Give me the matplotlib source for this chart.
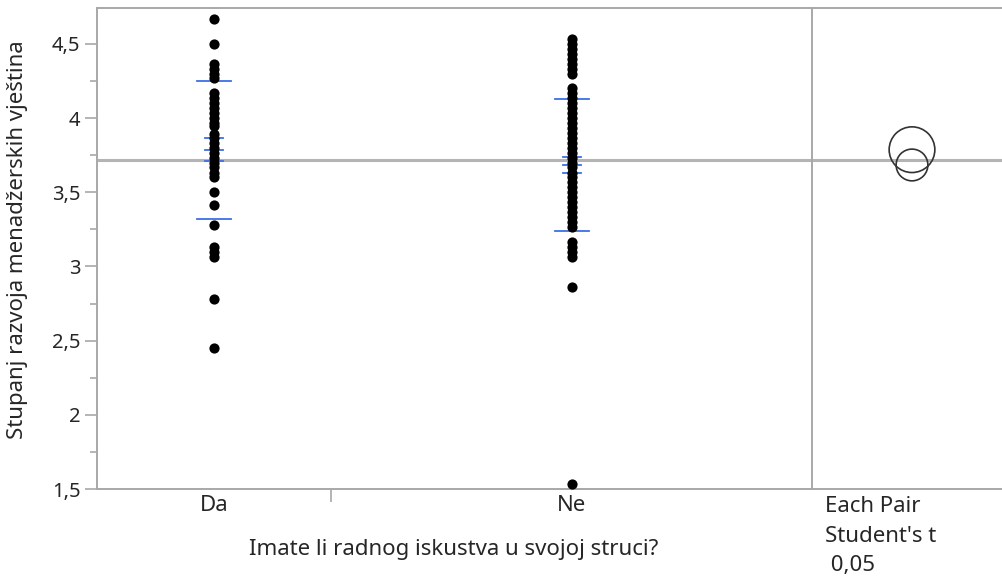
import matplotlib
matplotlib.use("Agg")
import matplotlib.pyplot as plt
from matplotlib.patches import Circle
from matplotlib.ticker import FuncFormatter, MultipleLocator

# Groups and their sizes (sizes set the width each group gets on the x axis)
groups = ["Da", "Ne"]
group_n = [58, 119]

# Distinct observed scores in each group
scores_da = [4.667, 4.5, 4.367, 4.333, 4.3, 4.267, 4.167, 4.133, 4.1, 4.067,
             4.033, 4.0, 3.967, 3.95, 3.89, 3.867, 3.833, 3.8, 3.767, 3.733,
             3.7, 3.667, 3.633, 3.6, 3.5, 3.417, 3.28, 3.133, 3.1, 3.067,
             2.783, 2.45]
scores_ne = [4.533, 4.5, 4.467, 4.433, 4.4, 4.367, 4.333, 4.3, 4.2, 4.167,
             4.133, 4.1, 4.067, 4.033, 4.0, 3.967, 3.933, 3.9, 3.867, 3.833,
             3.8, 3.767, 3.733, 3.7, 3.667, 3.633, 3.6, 3.567, 3.533, 3.5,
             3.467, 3.433, 3.4, 3.367, 3.333, 3.3, 3.267, 3.167, 3.133, 3.1,
             3.067, 2.86, 1.533]

# Group summaries
group_mean = [3.787, 3.684]
group_sd = [0.466, 0.446]
mean_ci_half = [0.078, 0.054]
circle_radius = [0.154, 0.107]

y_label = "Stupanj razvoja menadžerskih vještina"
x_label = "Imate li radnog iskustva u svojoj struci?"
compare_text = ["Each Pair", "Student's t", " 0,05"]

FONT = ["Noto Sans", "DejaVu Sans"]
plt.rcParams["font.family"] = FONT
W, H = 1003, 577
fig = plt.figure(figsize=(W / 100, H / 100), dpi=100)

def px_box(x0, y0, x1, y1):
    return [x0 / W, 1 - y1 / H, (x1 - x0) / W, (y1 - y0) / H]

def fig_text(x, y, s, **kw):
    fig.text(x / W, 1 - y / H, s, **kw)

YMIN, YMAX = 1.5, 4.742
spine_col = "#a8a8a8"
blue = "#3d6fe6"
text_col = "#262626"
LABEL_FS = 16
TICK_FS = 14.5

ax = fig.add_axes(px_box(97, 8, 812, 489))
ax.set_ylim(YMIN, YMAX)
total_n = sum(group_n)
ax.set_xlim(0, total_n)

grand_mean = sum(m * n for m, n in zip(group_mean, group_n)) / total_n

bounds = [0]
for n in group_n:
    bounds.append(bounds[-1] + n)
centers = [(bounds[i] + bounds[i + 1]) / 2 for i in range(len(group_n))]
x_per_px = total_n / (812 - 97)

ax.axhline(grand_mean, color="#b4b4b4", lw=2.2, zorder=1)

for i, (sc, c) in enumerate(zip([scores_da, scores_ne], centers)):
    m, sd, ci = group_mean[i], group_sd[i], mean_ci_half[i]
    wide = 17 * x_per_px
    narrow = 9 * x_per_px
    for yv in (m + sd, m - sd):
        ax.plot([c - wide, c + wide], [yv, yv], color=blue, lw=1.3, zorder=2)
    for yv in (m - ci, m, m + ci):
        ax.plot([c - narrow, c + narrow], [yv, yv], color=blue, lw=1.3, zorder=2)
    ax.scatter([c] * len(sc), sc, s=54, color="black", linewidths=0, zorder=3)

for side in ("left", "top", "bottom"):
    ax.spines[side].set_color(spine_col)
    ax.spines[side].set_linewidth(1.4)
ax.spines["right"].set_visible(False)

ax.yaxis.set_major_locator(MultipleLocator(0.5))
ax.yaxis.set_minor_locator(MultipleLocator(0.25))
ax.yaxis.set_major_formatter(FuncFormatter(
    lambda v, p: ("%g" % v).replace(".", ",")))
ax.tick_params(axis="y", which="major", length=9, width=1.2, color=spine_col,
               labelsize=TICK_FS, labelcolor=text_col, pad=3)
ax.tick_params(axis="y", which="minor", length=5, width=1.2, color=spine_col)

ax.set_xticks([bounds[1]])
ax.set_xticklabels([""])
ax.tick_params(axis="x", length=9, width=1.2, color=spine_col)
for g, c in zip(groups, centers):
    ax.text(c, 1 - (506 - 8) / (489 - 8), g, transform=ax.get_xaxis_transform(),
            ha="center", va="center", fontsize=LABEL_FS, color=text_col)

fig_text(18, 240, y_label, rotation=90, ha="center", va="center",
         fontsize=LABEL_FS, color=text_col)
fig_text(454, 549, x_label, ha="center", va="center",
         fontsize=LABEL_FS, color=text_col)

# Comparison circles panel
ax2 = fig.add_axes(px_box(812, 8, 1010, 489))
ax2.set_ylim(YMIN, YMAX)
y_per_px = (YMAX - YMIN) / (489 - 8)
ax2.set_xlim(0, (1010 - 812) * y_per_px)
ax2.axhline(grand_mean, color="#b4b4b4", lw=2.2, zorder=1)
cx = 100 * y_per_px
for m, r in zip(group_mean, circle_radius):
    ax2.add_patch(Circle((cx, m), r, fill=False, ec="#333333", lw=1.2, zorder=3))
for side in ("left", "top", "bottom"):
    ax2.spines[side].set_color(spine_col)
    ax2.spines[side].set_linewidth(1.4)
ax2.spines["right"].set_visible(False)
ax2.set_xticks([])
ax2.set_yticks([])
for k, t in enumerate(compare_text):
    fig_text(825, 506 + 30 * k, t, ha="left", va="center",
             fontsize=LABEL_FS, color=text_col)

fig.savefig("out.png", dpi=100)
